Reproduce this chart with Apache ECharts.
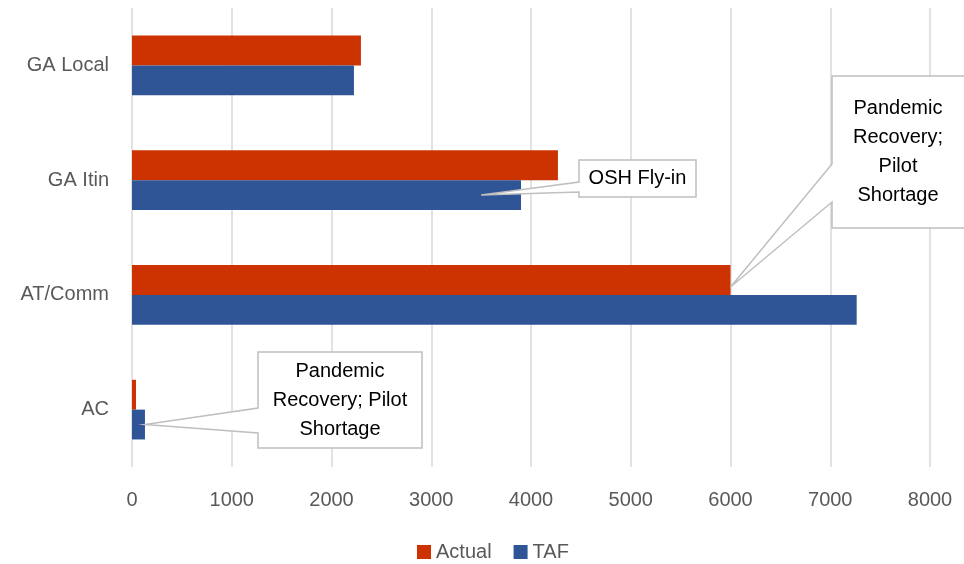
<!DOCTYPE html>
<html><head><meta charset="utf-8">
<script src="https://cdn.jsdelivr.net/npm/echarts@6/dist/echarts.min.js"></script>
<style>html,body{margin:0;padding:0;background:#fff}#c{width:964px;height:564px}</style>
</head><body><div id="c"></div>
<script>
// ---- data ----
const categories = ['AC', 'AT/Comm', 'GA Itin', 'GA Local'];
const actualValues = [40, 6000, 4270, 2295];
const tafValues = [130, 7265, 3900, 2225];
const seriesNames = ['Actual', 'TAF'];
const xMin = 0, xMax = 8000, xInterval = 1000;
// callout notes: anchor value + category + which bar
const noteTexts = ['OSH Fly-in', 'Pandemic\nRecovery;\nPilot\nShortage', 'Pandemic\nRecovery; Pilot\nShortage'];
const noteAnchorValues = [3500, 6000, 130];
const noteAnchorCats = ['GA Itin', 'AT/Comm', 'AC'];
const noteAnchorSeries = ['TAF', 'Actual', 'TAF'];

// ---- layout / style ----
const FONT = '"Liberation Sans", Arial, sans-serif';
const RED = '#CC3300', BLUE = '#2F5597';
const noteBoxes = [ // [x0,y0,x1,y1, wedgeTopY, wedgeBottomY, anchorYOffset]
  [579, 160, 696, 197, 182, 192, 0],
  [832, 76, 966, 228, 164, 202, 7],
  [258, 352, 422, 448, 408, 433, 0]
];

const chart = echarts.init(document.getElementById('c'), null, {renderer: 'canvas'});
const option = {
  animation: false,
  backgroundColor: '#fff',
  grid: {left: 132, right: 34, top: 8, bottom: 97, containLabel: false},
  legend: {
    data: seriesNames, top: 542, left: 417, padding: 0,
    itemWidth: 14, itemHeight: 14, itemGap: 22, icon: 'rect',
    textStyle: {color: '#595959', fontSize: 20, fontFamily: FONT}
  },
  xAxis: {
    type: 'value', min: xMin, max: xMax, interval: xInterval,
    axisLine: {show: false}, axisTick: {show: false},
    axisLabel: {color: '#595959', fontSize: 20, fontFamily: FONT, margin: 23,
      formatter: v => String(v)},
    splitLine: {show: true, lineStyle: {color: '#D9D9D9', width: 1.5}}
  },
  yAxis: {
    type: 'category', data: categories,
    axisLine: {show: false}, axisTick: {show: false},
    axisLabel: {color: '#595959', fontSize: 20, fontFamily: FONT, margin: 23},
    splitLine: {show: false}
  },
  series: [
    {name: 'Actual', type: 'bar', data: actualValues, itemStyle: {color: RED},
     barGap: '0%', barCategoryGap: '48%'},
    {name: 'TAF', type: 'bar', data: tafValues, itemStyle: {color: BLUE},
     barGap: '0%', barCategoryGap: '48%'}
  ]
};
chart.setOption(option);

// build callouts anchored to data
const graphics = [];
const bandPx = Math.abs(chart.convertToPixel({yAxisIndex: 0}, categories[0]) - chart.convertToPixel({yAxisIndex: 0}, categories[1]));
const barW = bandPx * 0.52 / 2;
noteTexts.forEach((t, i) => {
  const ax = chart.convertToPixel({xAxisIndex: 0}, noteAnchorValues[i]);
  const cy = chart.convertToPixel({yAxisIndex: 0}, noteAnchorCats[i]);
  const ay = (noteAnchorSeries[i] === 'TAF' ? cy + barW / 2 : cy - barW / 2) + noteBoxes[i][6];
  const [x0, y0, x1, y1, w1, w2] = noteBoxes[i];
  graphics.push({
    type: 'polygon', z: 100,
    shape: {points: [[x0, y0], [x1, y0], [x1, y1], [x0, y1], [x0, w2], [ax, ay], [x0, w1]]},
    style: {fill: '#fff', stroke: '#BFBFBF', lineWidth: 1.5}
  });
  graphics.push({
    type: 'text', z: 101,
    style: {text: t, x: (x0 + Math.min(x1, 964)) / 2, y: (y0 + y1) / 2,
      align: 'center', verticalAlign: 'middle', fill: '#000',
      font: '20px ' + FONT, lineHeight: 29}
  });
});
chart.setOption({graphic: graphics});
</script>
</body></html>
